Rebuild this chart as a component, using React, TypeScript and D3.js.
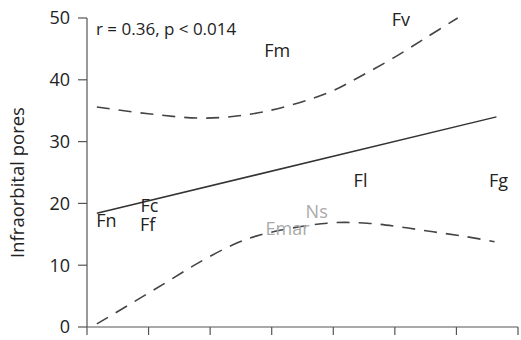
import * as d3 from "d3";

const W = 521;
const H = 340;

// axis layout
const X0 = 87;
const X1 = 518;
const Y0 = 327;
const Y1 = 18;

const yTicks = [0, 10, 20, 30, 40, 50];
const xTicks = [0, 1, 2, 3, 4, 5, 6, 7];

// species labels (x, y in data units, text sits on the point)
const labels = ["Fn", "Fc", "Ff", "Fm", "Fv", "Fl", "Fg", "Ns", "Emar"];
const labelX = [0.15, 0.87, 0.86, 2.88, 4.95, 4.33, 6.53, 3.55, 2.9];
const labelY = [16.2, 18.6, 15.5, 43.7, 48.7, 22.6, 22.7, 17.6, 14.9];
const labelGray = [false, false, false, false, false, false, false, true, true];

// regression line
const regX = [0.16, 6.65];
const regY = [18.4, 34.0];

// confidence band
const upperX = [0.16, 1.0, 1.92, 2.86, 3.94, 4.43, 4.97, 5.52, 6.02];
const upperY = [35.6, 34.5, 33.8, 34.8, 38.0, 40.5, 43.5, 46.9, 50.0];
const lowerX = [0.16, 0.75, 1.3, 1.83, 2.37, 2.81, 3.9, 4.55, 5.08, 5.62, 6.17, 6.62];
const lowerY = [0.5, 4.0, 7.3, 10.5, 13.3, 14.9, 16.8, 16.8, 16.2, 15.4, 14.6, 13.8];

export default function App() {
  const x = d3.scaleLinear().domain([0, 7]).range([X0, X1]);
  const y = d3.scaleLinear().domain([0, 50]).range([Y0, Y1]);

  const line = d3
    .line<[number, number]>()
    .x((d) => x(d[0]))
    .y((d) => y(d[1]))
    .curve(d3.curveCatmullRom);

  const upper = line(upperX.map((v, i) => [v, upperY[i]]) as [number, number][]);
  const lower = line(lowerX.map((v, i) => [v, lowerY[i]]) as [number, number][]);
  const reg = d3
    .line<[number, number]>()
    .x((d) => x(d[0]))
    .y((d) => y(d[1]))(regX.map((v, i) => [v, regY[i]]) as [number, number][]);

  const font = "'Open Sans', 'DejaVu Sans', sans-serif";

  return (
    <svg
      width={W}
      height={H}
      style={{ position: "absolute", left: 0, top: 0, background: "#fff" }}
      fontFamily={font}
    >
      {/* axes */}
      <line x1={X0} x2={X0} y1={Y1} y2={Y0} stroke="#555" strokeWidth={1.2} />
      <line x1={X0} x2={X1} y1={Y0} y2={Y0} stroke="#555" strokeWidth={1.2} />
      {yTicks.map((t) => (
        <g key={"y" + t}>
          <line x1={X0 - 9} x2={X0} y1={y(t)} y2={y(t)} stroke="#555" strokeWidth={1.2} />
          <text x={X0 - 17} y={y(t)} dy="0.36em" textAnchor="end" fontSize={18} fill="#222">
            {t}
          </text>
        </g>
      ))}
      {xTicks.map((t) => (
        <line key={"x" + t} x1={x(t)} x2={x(t)} y1={Y0} y2={Y0 + 8} stroke="#555" strokeWidth={1.2} />
      ))}
      <text
        transform={`translate(24, ${(Y0 + Y1) / 2 + 10}) rotate(-90)`}
        textAnchor="middle"
        fontSize={18.5}
        fill="#222"
      >
        Infraorbital pores
      </text>

      {/* fit and band */}
      <path d={upper ?? ""} fill="none" stroke="#444" strokeWidth={1.6} strokeDasharray="13 9" />
      <path d={lower ?? ""} fill="none" stroke="#444" strokeWidth={1.6} strokeDasharray="13 9" />
      <path d={reg ?? ""} fill="none" stroke="#333" strokeWidth={1.5} />

      {/* labels */}
      {labels.map((l, i) => (
        <text
          key={l}
          x={x(labelX[i])}
          y={y(labelY[i])}
          fontSize={18}
          fill={labelGray[i] ? "#aaa" : "#222"}
        >
          {l}
        </text>
      ))}

      <text x={96} y={35} fontSize={17} fill="#222">
        r = 0.36, p &lt; 0.014
      </text>
    </svg>
  );
}
